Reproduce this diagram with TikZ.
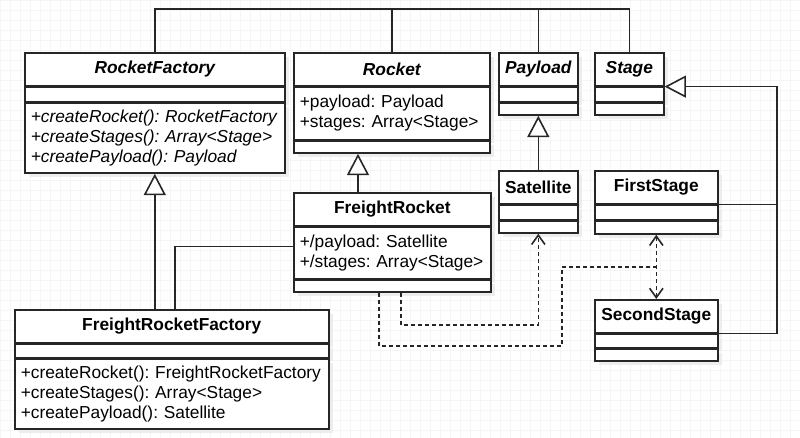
\documentclass[tikz,border=0pt]{standalone}
\usepackage{fontspec}
\setmainfont{Liberation Sans}
\usetikzlibrary{arrows.meta, calc, shadows}

\def\px{0.75pt}
\tikzset{
  uml/.style={draw=black!85, line width=1.2pt, fill=white, anchor=north west, inner ysep=0pt,
    drop shadow={fill=black!7, opacity=1, shadow xshift=3pt, shadow yshift=-3pt}},
  clsname/.style={uml, minimum height=33*\px, inner xsep=0pt, font=\fontsize{13}{15}\selectfont\bfseries},
  clsbody/.style={uml, align=left, inner xsep=6*\px, font=\fontsize{13}{15}\selectfont},
  assoc/.style={draw=black!85, line width=1.2pt},
  dep/.style={assoc, dash pattern=on 3pt off 2.25pt},
  inherit/.style={assoc, -{Triangle[length=16pt, width=16.5pt, fill=white]}},
  uses/.tip={Straight Barb[length=7pt, width=10pt]}
}

% #1 name, #2 top left, #3 width (px), #4 title, #5 attributes, #6 height, #7 operations, #8 height
\newcommand\umlclass[8]{%
  \node[clsname, minimum width=#3*\px] (#1) at (#2) {#4};
  \node[clsbody, text width={(#3-12)*\px}, minimum height=#6*\px] (#1-attr) at (#1.south west) {#5};
  \node[clsbody, text width={(#3-12)*\px}, minimum height=#8*\px] (#1-ops) at (#1-attr.south west) {#7};
}

\begin{document}
\begin{tikzpicture}[x=\px, y=-\px]
  \useasboundingbox (0,0) rectangle (800,438);
  \draw[black!4, step=7.5pt] (0,0) grid (800,438);

  % classes
  \umlclass{rf}{24,52}{260}{\itshape RocketFactory}{}{14}
    {\itshape +createRocket():~RocketFactory\\+createStages():~Array<Stage>\\+createPayload():~Payload}{70}
  \umlclass{rocket}{293,52}{196}{\itshape Rocket}
    {+payload:~Payload\\+stages:~Array<Stage>}{52}{}{12}
  \umlclass{payload}{498,52}{79}{\itshape Payload}{}{14}{}{12}
  \umlclass{stage}{594,52}{69}{\itshape Stage}{}{14}{}{12}
  \umlclass{sat}{498,170}{79}{Satellite}{}{14}{}{12}
  \umlclass{fs}{594,170}{123}{FirstStage}{}{14}{}{13}
  \umlclass{fr}{293,192}{197}{FreightRocket}
    {+/payload:~Satellite\\+/stages:~Array<Stage>}{51}{}{12}
  \umlclass{ss}{594,299}{123}{SecondStage}{}{13}{}{12}
  \umlclass{frf}{14,309}{314}{FreightRocketFactory}{}{13}
    {+createRocket():~FreightRocketFactory\\+createStages():~Array<Stage>\\+createPayload():~Satellite}{70}

  \coordinate (bus) at (0,9);
  \coordinate (rail) at (777,0);
  \coordinate (bend) at (562,267);

  % top line
  \draw[assoc] (rf.north) -- (rf.north |- bus) -| (stage.north);
  \draw[assoc] (rocket.north) -- (rocket.north |- bus);
  \draw[assoc] (payload.north) -- (payload.north |- bus);

  % generalisations
  \draw[inherit] (rf-ops.south |- frf.north) -- (rf-ops.south);
  \draw[inherit] ($(fr.north west)+(65,0)$) -- ($(rocket-ops.south west)+(65,0)$);
  \draw[inherit] (sat.north) -- (payload-ops.south);
  \draw[inherit] (fs.south east) -- (fs.south east -| rail) |- (stage.south east);
  \draw[assoc] (ss.south east) -- (ss.south east -| rail) -- (rail |- fs.south east);

  % association
  \draw[assoc] ($(frf.north west)+(161,0)$) |- ($(fr-attr.north west)+(0,20)$);

  % dependencies
  \draw[dep, uses-uses] (fs-ops.south) -- (ss.north);
  \draw[dep] ($(fr-ops.south west)+(86,0)$) -- ++(0,53) -| (bend) -- (bend -| fs-ops.south);
  \draw[dep, -uses] ($(fr-ops.south west)+(108,0)$) -- ++(0,32) -| (sat-ops.south);
\end{tikzpicture}
\end{document}
